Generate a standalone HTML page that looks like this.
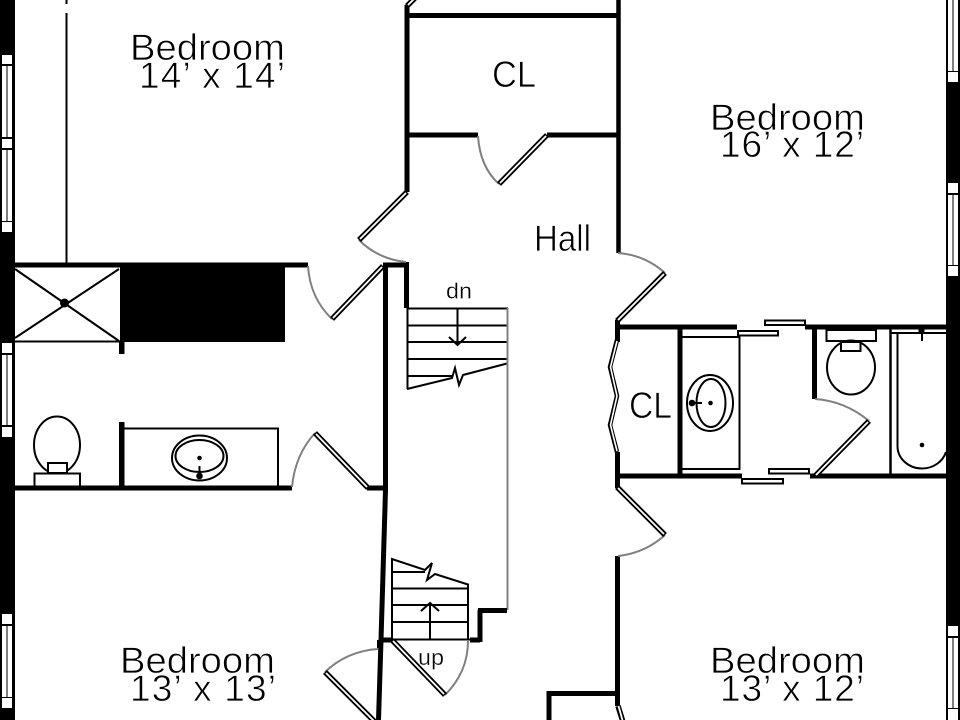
<!DOCTYPE html>
<html><head><meta charset="utf-8"><style>
html,body{margin:0;padding:0;background:#fff;width:960px;height:720px;overflow:hidden}
svg{display:block}
text{font-family:"Liberation Sans",sans-serif;fill:#000;stroke:#fff;stroke-width:.7px}
.w{stroke:#000;stroke-width:5;fill:none}
.t{stroke:#000;stroke-width:2;fill:none}
.g{stroke:#808080;stroke-width:2;fill:none}
.l1{stroke:#000;stroke-width:5.5;fill:none}
.l2{stroke:#fff;stroke-width:1.8;fill:none}
.win{fill:#fff}
</style></head><body>
<svg width="960" height="720" viewBox="0 0 960 720" xmlns="http://www.w3.org/2000/svg">
<rect width="960" height="720" fill="#fff"/>
<!-- outer walls -->
<rect x="0" y="0" width="15" height="720" fill="#000"/>
<rect x="946" y="0" width="14" height="720" fill="#000"/>
<!-- windows -->
<g class="win">
<rect x="2" y="55" width="10" height="9"/><rect x="2" y="66" width="10" height="71"/>
<rect x="2" y="139" width="10" height="9"/><rect x="2" y="150" width="10" height="71"/>
<rect x="2" y="222" width="10" height="10"/>
<rect x="2" y="343" width="10" height="10"/><rect x="2" y="355" width="10" height="70"/><rect x="2" y="427" width="10" height="10"/>
<rect x="2" y="614" width="10" height="10"/><rect x="2" y="626" width="10" height="71"/><rect x="2" y="698" width="10" height="10"/>
<rect x="948" y="0" width="10" height="71"/><rect x="948" y="72" width="10" height="10"/>
<rect x="948" y="183" width="10" height="10"/><rect x="948" y="195" width="10" height="70"/><rect x="948" y="266" width="10" height="10"/>
<rect x="948" y="626" width="10" height="10"/><rect x="948" y="638" width="10" height="70"/><rect x="948" y="709" width="10" height="11"/>
</g>
<g stroke="#808080" stroke-width="2">
<path d="M7 66V137M7 150V221M7 355V425M7 626V697M953 0V71M953 195V265M953 638V708"/>
</g>
<!-- thin partition -->
<path d="M66.5 13V264M66.5 0V4" stroke="#000" stroke-width="2"/>
<!-- walls -->
<path class="w" d="M407 5V192M407 15.5H617M407 135H478M547 135H618"/>
<path stroke="#000" stroke-width="4.5" fill="none" d="M618.5 0V253"/>
<path class="w" d="M15 265H308M383 265H409M406.5 262V308"/>
<path class="w" d="M385.5 265V490L381 640L378.5 720"/>
<path class="w" d="M15 488H292M367 488H385"/>
<rect x="120" y="265" width="165" height="77" fill="#000"/>
<!-- shower -->
<path d="M15 269L119 341M15 338L119 269" stroke="#000" stroke-width="2" fill="none"/>
<path d="M15 341.5H120" stroke="#000" stroke-width="2"/>
<circle cx="64.500" cy="303" r="4.500" fill="#000"/>
<rect x="119" y="342" width="5.500" height="12" fill="#000"/>
<rect x="119" y="422" width="5.500" height="66" fill="#000"/>
<!-- vanity 1 -->
<path class="t" d="M124 428.500H278V487"/>
<ellipse cx="199.500" cy="458" rx="27.500" ry="22.500" class="t"/>
<ellipse cx="199.500" cy="456" rx="24" ry="16" class="t"/>
<circle cx="199.500" cy="458" r="2.300" fill="#000"/>
<path d="M199.500 466V476" stroke="#000" stroke-width="2"/>
<circle cx="199.500" cy="476" r="3.300" fill="#000"/>
<!-- toilet 1 -->
<ellipse cx="57" cy="445" rx="23" ry="28.500" class="t" fill="#fff"/>
<rect x="34.500" y="473.500" width="45.500" height="13" fill="#fff" stroke="#000" stroke-width="2"/>
<rect x="48" y="463" width="19" height="10" fill="#fff" stroke="#000" stroke-width="2"/>
<!-- stairs dn -->
<path class="t" d="M407 308.500H508M407 325.500H507M407 342H507M407 359H507M407 376H452M407.500 308V389"/>
<path class="t" d="M407 389L452 378L455 368L459 385L463 375L507 363.500"/>
<path class="t" d="M457.500 308V345M449 337L457.500 345L466 337"/>
<path class="g" d="M507.500 308V610"/>
<!-- stairs up -->
<path class="t" d="M392 639V559L425 570L432 563L427 580L435 574L468 584.500V639M392 622H469M392 605H469M392 588.500H469M392 572H425"/>
<path class="t" d="M430 639V604M421 611L430 603L439 611"/>
<path d="M381 640H392M470 640H480M480 642V610M478 610.500H507" class="w"/>
<path d="M392 639.500H470" stroke="#000" stroke-width="2"/>
<rect x="377" y="640" width="5" height="8" fill="#000"/>
<!-- right hall walls -->
<path class="w" d="M617.500 320V342M617 327H737M680 327V476M617 476H742M617.500 452V488M617.500 556V706M547 693.500H620M549 691V720"/>
<path class="w" d="M805 327H946M814.500 327V399M810 476H946"/>
<path stroke="#000" stroke-width="2.500" d="M890.500 329V476"/>
<!-- vanity 2 -->
<path class="t" d="M682 337H739.500V469H682"/>
<ellipse cx="710" cy="403" rx="23" ry="28" class="t"/>
<ellipse cx="711" cy="403" rx="14.500" ry="24" class="t"/>
<circle cx="710.500" cy="403" r="2.300" fill="#000"/>
<path d="M692 403H702" stroke="#000" stroke-width="2"/>
<circle cx="692" cy="403" r="3.300" fill="#000"/>
<!-- sliding doors -->
<g fill="#fff" stroke="#000" stroke-width="2">
<rect x="765" y="320.500" width="40" height="4.500"/>
<rect x="738" y="331" width="40" height="4.500"/>
<rect x="769" y="469" width="40" height="4.500"/>
<rect x="742" y="479" width="41" height="4.500"/>
</g>
<!-- toilet 2 -->
<rect x="826.500" y="330" width="49.500" height="11" fill="#fff" stroke="#000" stroke-width="2"/>
<ellipse cx="851" cy="367.500" rx="24" ry="27" class="t"/>
<rect x="841" y="342" width="19.500" height="9" fill="#fff" stroke="#000" stroke-width="2"/>
<!-- tub -->
<path class="t" d="M891 333H946"/>
<path class="t" d="M897.500 333V446C897.500 459 909 468.500 922 468.500C934 468.500 943 461 946 452"/>
<circle cx="922" cy="445" r="2.300" fill="#000"/>
<path d="M922 329V341" stroke="#000" stroke-width="2"/>
<rect x="918.500" y="329" width="6" height="4" fill="#000"/>
<!-- door arcs -->
<g class="g">
<path d="M478 136Q480 167 499 184"/>
<path d="M359 240Q378 259 406 262"/>
<path d="M308 266Q310 298 332 319"/>
<path d="M292 487Q295 455 315 433"/>
<path d="M618 253Q645 255 665 273"/>
<path d="M815 399Q845 401 869 421"/>
<path d="M665 535Q645 553 618 556"/>
<path d="M445 695Q468 672 468 641"/>
<path d="M325 672Q347 651 378 649"/>
</g>
<!-- door leaves -->
<g class="l1">
<path d="M547 135L499 184M407 192L359 240M383 266L332 319M315 433L368 488M665 273L617 321M869 421L815 476M617 487L665 535M392 640L445 695M325 672L379 726M407 6L415 -2M618 706L623 722"/>
<path d="M617 340L610 367L617 396L610 425L617 452" stroke-width="4.500"/>
</g>
<g class="l2">
<path d="M546 136L500 183M406 193L360 239M382 267L333 318M316 434L367 487M664 274L618 320M868 422L816 475M618 488L664 534M393 641L444 694M326 673L378 725M408 5L415 -2M618.500 706L623 722"/>
<path d="M617 341L610.500 367L617 396L610.500 425L617 451" stroke-width="1.600"/>
</g>
<!-- labels -->
<g font-size="37">
<text x="130" y="60" textLength="155" lengthAdjust="spacingAndGlyphs">Bedroom</text>
<text x="139" y="88" textLength="146" lengthAdjust="spacing">14’ x 14’</text>
<text x="710" y="130" textLength="155" lengthAdjust="spacingAndGlyphs">Bedroom</text>
<text x="720" y="157" textLength="144" lengthAdjust="spacing">16’ x 12’</text>
<text x="120" y="673" textLength="155" lengthAdjust="spacingAndGlyphs">Bedroom</text>
<text x="130" y="701" textLength="146" lengthAdjust="spacing">13’ x 13’</text>
<text x="710" y="673" textLength="155" lengthAdjust="spacingAndGlyphs">Bedroom</text>
<text x="720" y="701" textLength="144" lengthAdjust="spacing">13’ x 12’</text>
<text x="492" y="87" textLength="44" lengthAdjust="spacingAndGlyphs">CL</text>
<text x="534" y="251" textLength="57" lengthAdjust="spacingAndGlyphs">Hall</text>
<text x="629" y="418" textLength="43" lengthAdjust="spacingAndGlyphs">CL</text>
</g>
<text x="446" y="298.500" font-size="22" style="stroke-width:.3px" textLength="26" lengthAdjust="spacingAndGlyphs">dn</text>
<text x="418" y="665" font-size="22" style="stroke-width:.3px" textLength="26" lengthAdjust="spacingAndGlyphs">up</text>
</svg>
</body></html>
